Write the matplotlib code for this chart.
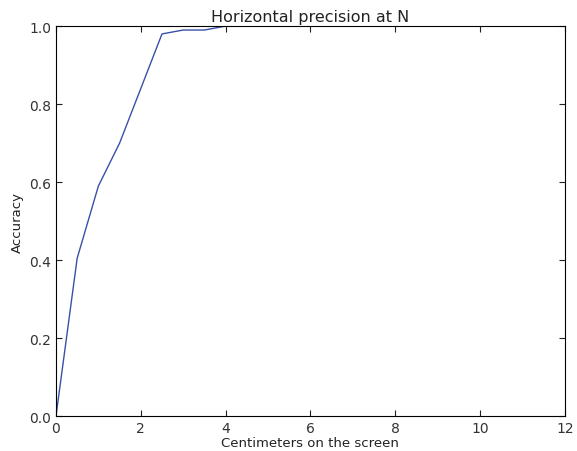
import numpy as np
from matplotlib import pyplot as plt

# Data
cm = np.arange(0, 11.5, 0.5)
accuracy = [0.0, 0.405, 0.59, 0.70, 0.84, 0.98, 0.99, 0.99, 1.0,
            1.0, 1.0, 1.0, 1.0, 1.0, 1.0, 1.0, 1.0, 1.0, 1.0, 1.0,
            1.0, 1.0, 1.0]

fig = plt.figure(figsize=(5.77, 4.52), dpi=100)
ax = fig.add_axes([0.097, 0.077, 0.882, 0.863])
ax.plot(cm, accuracy, color="#3850a8", lw=1)
ax.set_xlim(0, 12)
ax.set_ylim(0, 1.0)
ax.set_xticks(np.arange(0, 13, 2))
ax.set_yticks(np.arange(0, 1.01, 0.2))
ax.tick_params(direction="in", top=True, right=True, length=4, labelsize=10,
               colors="#222222", labelcolor="#333333")
ax.set_xlabel("Centimeters on the screen", fontsize=9.5, labelpad=1,
              color="#222222")
ax.set_ylabel("Accuracy", fontsize=9.5, color="#222222")
ax.set_title("Horizontal precision at N", fontsize=11.5, pad=4,
             color="#222222")
fig.savefig("out.png")
